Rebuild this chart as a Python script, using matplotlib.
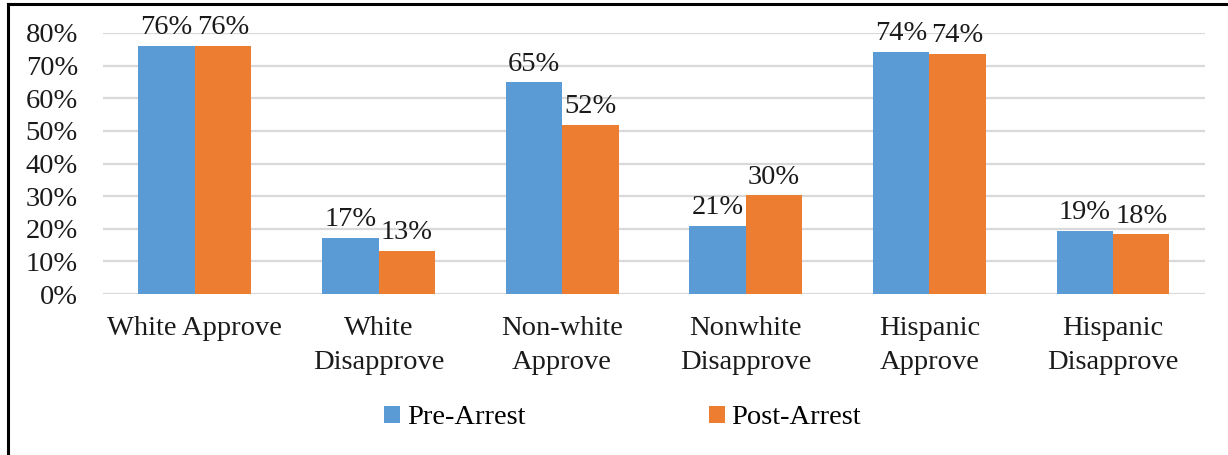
import matplotlib
matplotlib.use("Agg")
import matplotlib.pyplot as plt
from matplotlib.lines import Line2D
from matplotlib.patches import Patch
import numpy as np

categories = ["White Approve", "White\nDisapprove", "Non-white\nApprove",
              "Nonwhite\nDisapprove", "Hispanic\nApprove", "Hispanic\nDisapprove"]
pre_arrest = [0.761, 0.173, 0.649, 0.209, 0.742, 0.193]
post_arrest = [0.760, 0.132, 0.519, 0.303, 0.737, 0.183]
series_names = ["Pre-Arrest", "Post-Arrest"]
y_ticks = [0.0, 0.1, 0.2, 0.3, 0.4, 0.5, 0.6, 0.7, 0.8]

BLUE = "#5B9BD5"
ORANGE = "#ED7D31"
FONT = "Liberation Serif"
FS = 20.5
plt.rcParams["font.family"] = [FONT, "DejaVu Serif"]

fig = plt.figure(figsize=(12.28, 4.55), dpi=100)
ax = fig.add_axes([0.0839, 0.3538, 0.8973, 0.5737])

x = np.arange(len(categories))
w = 0.307
b1 = ax.bar(x - w / 2, pre_arrest, w, color=BLUE, zorder=3)
b2 = ax.bar(x + w / 2, post_arrest, w, color=ORANGE, zorder=3)

for bars, vals in ((b1, pre_arrest), (b2, post_arrest)):
    for r, v in zip(bars, vals):
        ax.annotate(f"{round(v * 100):d}%", (r.get_x() + r.get_width() / 2, v),
                    xytext=(0, 4), textcoords="offset points",
                    ha="center", va="bottom", fontsize=FS, color="#1a1a1a")

ax.set_xlim(-0.5, len(categories) - 0.5)
ax.set_ylim(0, 0.8)
ax.set_yticks(y_ticks)
ax.set_yticklabels([f"{int(round(t * 100))}%" for t in y_ticks], fontsize=FS)
ax.set_xticks(x)
ax.set_xticklabels(categories, fontsize=FS, linespacing=1.45)
ax.tick_params(axis="both", length=0, colors="#1a1a1a")
ax.tick_params(axis="y", pad=18)
ax.tick_params(axis="x", pad=16)
ax.yaxis.grid(True, color="#d9d9d9", linewidth=1.6, zorder=0)
ax.set_axisbelow(True)
for s in ax.spines.values():
    s.set_visible(False)

handles = [Patch(facecolor=BLUE, edgecolor="none"), Patch(facecolor=ORANGE, edgecolor="none")]
fig.legend(handles, series_names, loc="center", bbox_to_anchor=(0.507, 1 - 418 / 455),
           ncol=2, frameon=False, fontsize=FS, handlelength=0.55, handleheight=0.55,
           handletextpad=0.25, columnspacing=6.45)

# outer frame lines
fig.add_artist(Line2D([8 / 1228, 1], [1 - 3.5 / 455] * 2, transform=fig.transFigure,
                      color="black", linewidth=2.2))
fig.add_artist(Line2D([8 / 1228] * 2, [0, 1 - 3.5 / 455], transform=fig.transFigure,
                      color="black", linewidth=2.2))

fig.savefig("out.png", dpi=100)
